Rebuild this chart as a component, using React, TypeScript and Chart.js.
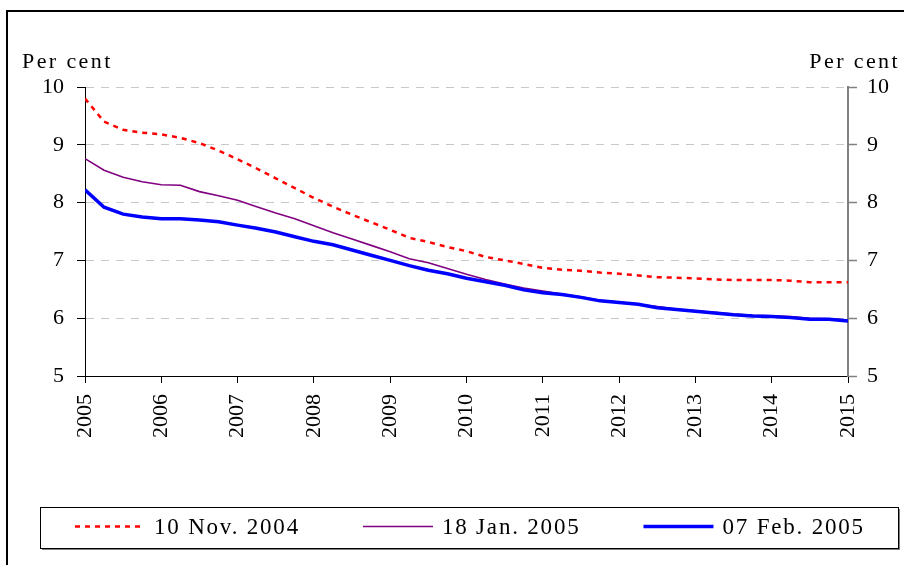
import React, { useEffect, useRef } from "react";
import { Chart, registerables } from "chart.js";

Chart.register(...registerables);

const years: number[] = [
  2005.0, 2005.25, 2005.5, 2005.75, 2006.0, 2006.25, 2006.5, 2006.75,
  2007.0, 2007.25, 2007.5, 2007.75, 2008.0, 2008.25, 2008.5, 2008.75,
  2009.0, 2009.25, 2009.5, 2009.75, 2010.0, 2010.25, 2010.5, 2010.75,
  2011.0, 2011.25, 2011.5, 2011.75, 2012.0, 2012.25, 2012.5, 2012.75,
  2013.0, 2013.25, 2013.5, 2013.75, 2014.0, 2014.25, 2014.5, 2014.75, 2015.0,
];

const nov2004: number[] = [
  9.8, 9.4, 9.26, 9.21, 9.18, 9.12, 9.03, 8.9,
  8.75, 8.59, 8.42, 8.25, 8.08, 7.93, 7.79, 7.66,
  7.53, 7.39, 7.32, 7.23, 7.16, 7.06, 7.0, 6.94,
  6.87, 6.84, 6.82, 6.79, 6.77, 6.74, 6.71, 6.7,
  6.69, 6.67, 6.66, 6.66, 6.66, 6.65, 6.62, 6.62, 6.62,
];

const jan2005: number[] = [
  8.76, 8.56, 8.44, 8.36, 8.31, 8.3, 8.19, 8.12,
  8.04, 7.93, 7.82, 7.72, 7.6, 7.48, 7.37, 7.26,
  7.15, 7.03, 6.96, 6.86, 6.76, 6.67, 6.59, 6.52,
  6.47, 6.42, 6.37, 6.31, 6.28, 6.24, 6.2, 6.16,
  6.13, 6.1, 6.07, 6.05, 6.04, 6.03, 6.0, 5.99, 5.97,
];

const feb2005: number[] = [
  8.22, 7.92, 7.8, 7.75, 7.72, 7.72, 7.7, 7.67,
  7.61, 7.555, 7.49, 7.41, 7.33, 7.27, 7.18, 7.09,
  7.0, 6.91, 6.83, 6.77, 6.69, 6.63, 6.57, 6.49,
  6.44, 6.41, 6.36, 6.3, 6.27, 6.24, 6.18, 6.15,
  6.12, 6.09, 6.06, 6.04, 6.03, 6.01, 5.98, 5.98, 5.95,
];

const seriesLabels: string[] = ["10 Nov. 2004", "18 Jan. 2005", "07 Feb. 2005"];
const yTicks: number[] = [5, 6, 7, 8, 9, 10];
const xTicks: number[] = [2005, 2006, 2007, 2008, 2009, 2010, 2011, 2012, 2013, 2014, 2015];
const unitLabel = "Per cent";

const FONT = "'Liberation Serif', 'Times New Roman', serif";

const decorPlugin = {
  id: "decor",
  beforeDraw(chart: any) {
    const ctx = chart.ctx as CanvasRenderingContext2D;
    ctx.save();
    ctx.fillStyle = "#ffffff";
    ctx.fillRect(0, 0, chart.width, chart.height);
    ctx.strokeStyle = "#000000";
    ctx.lineWidth = 2;
    ctx.strokeRect(7, 11, chart.width + 20, chart.height + 20);
    ctx.restore();
  },
  afterDraw(chart: any) {
    const ctx = chart.ctx as CanvasRenderingContext2D;
    ctx.save();
    (ctx as any).letterSpacing = "2.4px";
    ctx.fillStyle = "#000000";
    ctx.font = `22px ${FONT}`;
    ctx.textBaseline = "alphabetic";
    ctx.textAlign = "left";
    ctx.fillText(unitLabel, 22, 68);
    ctx.textAlign = "right";
    ctx.fillText(unitLabel, 900, 68);

    // legend box
    const bx = 40, by = 507, bw = 858, bh = 41;
    ctx.fillStyle = "#808080";
    ctx.fillRect(bx + 2, by + bh, bw, 2);
    ctx.fillRect(bx + bw, by + 2, 2, bh);
    ctx.strokeStyle = "#000000";
    ctx.lineWidth = 1;
    ctx.strokeRect(bx + 0.5, by + 0.5, bw, bh);

    (ctx as any).letterSpacing = "1.8px";
    ctx.font = `23px ${FONT}`;
    ctx.textAlign = "left";
    ctx.textBaseline = "middle";
    const lineW = 70, gapT = 9, gapI = 63;
    const ds = chart.data.datasets;
    const widths = ds.map((d: any) => ctx.measureText(d.label).width);
    let x = bx + 35;
    const cy = by + bh / 2 - 1;
    ds.forEach((d: any, i: number) => {
      ctx.save();
      ctx.strokeStyle = d.borderColor;
      ctx.lineWidth = d.borderWidth;
      ctx.setLineDash(d.borderDash || []);
      ctx.beginPath();
      ctx.moveTo(x, cy);
      ctx.lineTo(x + lineW, cy);
      ctx.stroke();
      ctx.restore();
      ctx.fillStyle = "#000000";
      ctx.fillText(d.label, x + lineW + gapT, cy + 1);
      x += lineW + gapT + widths[i] + gapI;
    });
    ctx.restore();
  },
};

export default function App() {
  const ref = useRef<HTMLCanvasElement | null>(null);

  useEffect(() => {
    if (!ref.current) return;
    const mk = (vals: number[]) => years.map((x, i) => ({ x, y: vals[i] }));
    const chart = new Chart(ref.current, {
      type: "line",
      data: {
        datasets: [
          {
            label: seriesLabels[0],
            data: mk(nov2004),
            borderColor: "#ff0000",
            backgroundColor: "#ff0000",
            borderWidth: 2.5,
            borderDash: [5, 5],
            pointRadius: 0,
            tension: 0,
            order: 2,
          },
          {
            label: seriesLabels[1],
            data: mk(jan2005),
            borderColor: "#800080",
            backgroundColor: "#800080",
            borderWidth: 1.6,
            pointRadius: 0,
            tension: 0,
            order: 1,
          },
          {
            label: seriesLabels[2],
            data: mk(feb2005),
            borderColor: "#0000ff",
            backgroundColor: "#0000ff",
            borderWidth: 3.5,
            pointRadius: 0,
            tension: 0,
            order: 0,
          },
        ],
      },
      options: {
        responsive: false,
        animation: false,
        devicePixelRatio: 1,
        layout: { padding: { top: 87, bottom: 89, left: 0, right: 0 } },
        plugins: { legend: { display: false }, tooltip: { enabled: false } },
        scales: {
          x: {
            type: "linear",
            min: 2005,
            max: 2015,
            afterBuildTicks: (s: any) => {
              s.ticks = xTicks.map((v) => ({ value: v }));
            },
            afterFit: (s: any) => {
              s.height = 100;
            },
            ticks: {
              callback: (v: any) => String(v),
              minRotation: 90,
              maxRotation: 90,
              autoSkip: false,
              padding: 11,
              color: "#000000",
              font: { family: FONT, size: 22 },
            },
            grid: {
              drawOnChartArea: false,
              drawTicks: true,
              tickLength: 7,
              tickColor: "#000000",
              tickWidth: 1,
            },
            border: { color: "#000000", width: 1 },
          },
          y: {
            type: "linear",
            position: "left",
            min: 5,
            max: 10,
            afterBuildTicks: (s: any) => {
              s.ticks = yTicks.map((v) => ({ value: v }));
            },
            afterFit: (s: any) => {
              s.width = 85;
            },
            ticks: {
              padding: 13,
              color: "#000000",
              font: { family: FONT, size: 22 },
              callback: (v: any) => String(v),
            },
            grid: {
              color: (c: any) => (c.tick && c.tick.value === 5 ? "rgba(0,0,0,0)" : "#c8c8c8"),
              lineWidth: 1,
              tickLength: 8,
              tickColor: "#000000",
              tickWidth: 1,
            },
            border: { color: "#000000", width: 1, dash: [8, 7] },
          },
          y2: {
            type: "linear",
            position: "right",
            min: 5,
            max: 10,
            afterBuildTicks: (s: any) => {
              s.ticks = yTicks.map((v) => ({ value: v }));
            },
            afterFit: (s: any) => {
              s.width = 56;
            },
            ticks: {
              padding: 10,
              color: "#000000",
              font: { family: FONT, size: 22 },
              callback: (v: any) => String(v),
            },
            grid: {
              drawOnChartArea: false,
              tickLength: 9,
              tickColor: "#808080",
              tickWidth: 1.5,
            },
            border: { color: "#808080", width: 2 },
          },
        },
      },
      plugins: [decorPlugin],
    });
    return () => chart.destroy();
  }, []);

  return (
    <div style={{ position: "fixed", left: 0, top: 0, width: 904, height: 565, background: "#fff" }}>
      <canvas ref={ref} width={904} height={565} style={{ width: 904, height: 565, display: "block" }} />
    </div>
  );
}
